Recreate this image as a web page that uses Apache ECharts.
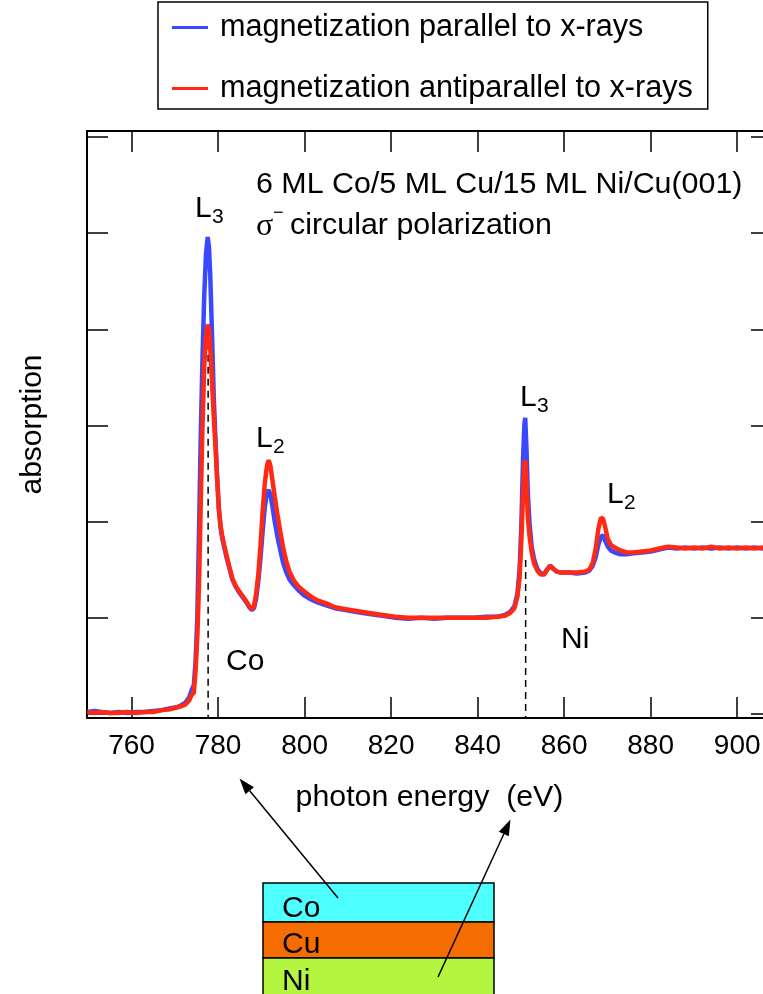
<!DOCTYPE html>
<html>
<head>
<meta charset="utf-8">
<script src="https://cdn.jsdelivr.net/npm/echarts@6/dist/echarts.min.js"></script>
<style>
  html, body { margin: 0; padding: 0; background: #fff; }
  #chart { width: 763px; height: 994px; }
</style>
</head>
<body>
<div id="chart"></div>
<script>
// Photon energy grid (eV)
const energy = [
  749.8, 751.5, 753, 755, 757, 759, 761, 763, 765, 767, 769, 770.5, 771.5, 772.5, 773.3, 773.9,
  774.4, 774.8, 775.2, 775.6, 776.0, 776.4, 776.8, 777.2, 777.6, 777.9, 778.2, 778.6, 779.0, 779.4,
  779.8, 780.2, 780.6, 781.0, 781.5, 782.0, 782.6, 783.3, 784.0, 784.8, 785.6, 786.4, 787.2, 787.8,
  788.3, 788.8, 789.3, 789.8, 790.3, 790.8, 791.3, 791.7, 792.1, 792.6, 793.1, 793.7, 794.3, 795.0,
  795.7, 796.5, 797.5, 798.7, 800.0, 801.5, 803.0, 805.0, 807.0, 809.5, 812.0, 815.0, 818.0, 821.0,
  824.0, 827.0, 830.0, 833.0, 836.0, 839.0, 842.0, 844.5, 846.3, 847.5, 848.5, 849.2, 849.7, 850.1,
  850.5, 850.8, 851.0, 851.3, 851.6, 852.0, 852.5, 853.1, 853.8, 854.6, 855.4, 856.2, 856.8, 857.5,
  858.3, 859.3, 861.0, 863.0, 864.8, 865.8, 866.6, 867.3, 867.9, 868.5, 869.0, 869.5, 870.1, 870.8,
  871.7, 873.0, 874.5, 876.0, 878.0, 880.0, 882.0, 884.0, 886.0, 888.0, 890.0, 892.0, 894.0, 896.0,
  898.0, 900.0, 902.0, 904.0, 906.0, 908.0
];

// Absorption, magnetization parallel to the x-rays
const absParallel = [
  0.02, 0.03, 0.02, 0.01, 0.02, 0.01, 0.02, 0.02, 0.03, 0.04, 0.06, 0.07, 0.09, 0.12, 0.17, 0.25,
  0.30, 0.55, 1.00, 1.90, 2.90, 3.70, 4.35, 4.78, 4.96, 4.85, 4.55, 3.95, 3.30, 2.85,
  2.45, 2.12, 1.93, 1.82, 1.72, 1.62, 1.52, 1.40, 1.33, 1.27, 1.22, 1.17, 1.11, 1.08,
  1.10, 1.20, 1.38, 1.62, 1.90, 2.15, 2.30, 2.33, 2.28, 2.15, 2.00, 1.85, 1.72, 1.58,
  1.48, 1.40, 1.34, 1.28, 1.23, 1.19, 1.16, 1.13, 1.10, 1.08, 1.06, 1.04, 1.02, 1.00,
  0.99, 1.00, 0.99, 1.00, 1.00, 1.00, 1.01, 1.01, 1.03, 1.06, 1.12, 1.25, 1.50, 1.95,
  2.65, 3.00, 3.08, 2.75, 2.30, 1.98, 1.74, 1.60, 1.51, 1.46, 1.46, 1.51, 1.54, 1.51,
  1.48, 1.47, 1.47, 1.46, 1.47, 1.49, 1.54, 1.63, 1.76, 1.84, 1.86, 1.80, 1.74, 1.70,
  1.68, 1.66, 1.66, 1.67, 1.68, 1.69, 1.71, 1.73, 1.72, 1.73, 1.72, 1.73, 1.72, 1.73,
  1.72, 1.73, 1.72, 1.73, 1.72, 1.72
];

// Absorption, magnetization antiparallel to the x-rays
const absAntiparallel = [
  0.02, 0.01, 0.02, 0.01, 0.01, 0.02, 0.01, 0.02, 0.02, 0.04, 0.05, 0.07, 0.08, 0.10, 0.14, 0.20,
  0.22, 0.45, 0.80, 1.35, 2.20, 3.00, 3.62, 3.92, 4.05, 4.00, 3.80, 3.45, 3.10, 2.78,
  2.43, 2.12, 1.95, 1.84, 1.74, 1.64, 1.53, 1.41, 1.34, 1.28, 1.23, 1.18, 1.12, 1.09,
  1.12, 1.25, 1.45, 1.75, 2.10, 2.40, 2.58, 2.64, 2.58, 2.42, 2.26, 2.08, 1.92, 1.74,
  1.60, 1.48, 1.39, 1.32, 1.27, 1.22, 1.18, 1.15, 1.11, 1.09, 1.07, 1.05, 1.03, 1.01,
  1.00, 1.00, 1.00, 1.00, 1.00, 1.00, 1.00, 1.01, 1.02, 1.05, 1.10, 1.22, 1.42, 1.80,
  2.30, 2.60, 2.64, 2.40, 2.05, 1.85, 1.68, 1.56, 1.49, 1.45, 1.45, 1.51, 1.54, 1.51,
  1.48, 1.47, 1.47, 1.47, 1.48, 1.50, 1.57, 1.72, 1.92, 2.04, 2.03, 1.94, 1.82, 1.76,
  1.73, 1.70, 1.68, 1.68, 1.69, 1.70, 1.72, 1.74, 1.73, 1.72, 1.73, 1.72, 1.74, 1.72,
  1.73, 1.72, 1.73, 1.72, 1.73, 1.72
];

const xTicks = [760, 780, 800, 820, 840, 860, 880, 900];
const yTicks = [0, 1, 2, 3, 4, 5, 6];

// L3 edge positions (eV) and extents of the dashed markers (absorption units)
const coEdge = [777.7, 3.86, -0.042];
const niEdge = [851.1, 1.60, -0.042];

const FONT = '"Liberation Sans", Arial, Helvetica, sans-serif';
const BLUE = '#3a48ff';
const RED = '#ff2a14';

const chart = echarts.init(document.getElementById('chart'), null, { renderer: 'canvas' });

const pairs = (xs, ys) => xs.map((x, i) => [x, ys[i]]);

function txt(text, x, y, size, extra) {
  return {
    type: 'text', silent: true,
    style: Object.assign({
      text: text, x: x, y: y, fontSize: size, fontFamily: FONT,
      fill: '#000', verticalAlign: 'middle', align: 'left'
    }, extra || {})
  };
}

// Arrow from tail to tip, with a filled head
function arrow(tail, tip) {
  const dx = tip[0] - tail[0], dy = tip[1] - tail[1];
  const len = Math.hypot(dx, dy);
  const ux = dx / len, uy = dy / len;
  const hl = 16, hw = 5.5;
  const bx = tip[0] - hl * ux, by = tip[1] - hl * uy;
  const nx = -uy, ny = ux;
  return [
    { type: 'line', silent: true,
      shape: { x1: tail[0], y1: tail[1], x2: bx, y2: by },
      style: { stroke: '#000', lineWidth: 1.5 } },
    { type: 'polygon', silent: true,
      shape: { points: [tip, [bx + hw * nx, by + hw * ny], [bx - hw * nx, by - hw * ny]] },
      style: { fill: '#000' } }
  ];
}

const tickCommon = { show: true, inside: true, length: 21, lineStyle: { color: '#000', width: 1.5 } };
const lineCommon = { show: true, onZero: false, lineStyle: { color: '#000', width: 2 } };

const X_MIN = 749.7, X_MAX = 908.05;
const Y_MIN = -0.042, Y_MAX = 6.062;

const option = {
  backgroundColor: '#fff',
  animation: false,
  textStyle: { fontFamily: FONT },
  legend: {
    data: ['magnetization parallel to x-rays', 'magnetization antiparallel to x-rays'],
    orient: 'vertical',
    left: 158, top: 2,
    padding: [10, 15, 5, 14],
    itemGap: 30,
    itemWidth: 36, itemHeight: 3,
    icon: 'rect',
    borderColor: '#000', borderWidth: 1.5,
    textStyle: { fontSize: 30.6, fontFamily: FONT, color: '#000', lineHeight: 30, padding: [0, 0, 0, 7] }
  },
  grid: { left: 87, top: 131, width: 685, bottom: 276, containLabel: false, outerBoundsMode: 'none' },
  xAxis: [
    {
      type: 'value', position: 'bottom', min: X_MIN, max: X_MAX,
      axisLine: lineCommon,
      axisTick: Object.assign({ customValues: xTicks }, tickCommon),
      axisLabel: { customValues: xTicks, fontSize: 28, color: '#000', margin: 14, fontFamily: FONT },
      splitLine: { show: false },
      name: 'photon energy  (eV)', nameLocation: 'middle', nameGap: 65,
      nameTextStyle: { fontSize: 30.3, color: '#000', fontFamily: FONT }
    },
    {
      type: 'value', position: 'top', min: X_MIN, max: X_MAX,
      axisLine: lineCommon,
      axisTick: Object.assign({ customValues: xTicks }, tickCommon),
      axisLabel: { show: false },
      splitLine: { show: false }
    }
  ],
  yAxis: [
    {
      type: 'value', position: 'left', min: Y_MIN, max: Y_MAX,
      axisLine: lineCommon,
      axisTick: Object.assign({ customValues: yTicks }, tickCommon),
      axisLabel: { show: false },
      splitLine: { show: false },
      name: 'absorption', nameLocation: 'middle', nameGap: 39, nameRotate: 90,
      nameTextStyle: { fontSize: 30, color: '#000', fontFamily: FONT }
    },
    {
      type: 'value', position: 'right', min: Y_MIN, max: Y_MAX,
      axisLine: lineCommon,
      axisTick: Object.assign({ customValues: yTicks }, tickCommon),
      axisLabel: { show: false },
      splitLine: { show: false }
    }
  ],
  series: [
    {
      name: 'Co L3 edge', type: 'line', z: 1, showSymbol: false, silent: true,
      data: [[coEdge[0], coEdge[1]], [coEdge[0], coEdge[2]]],
      lineStyle: { color: '#000', width: 1.5, type: [7, 5] }
    },
    {
      name: 'Ni L3 edge', type: 'line', z: 1, showSymbol: false, silent: true,
      data: [[niEdge[0], niEdge[1]], [niEdge[0], niEdge[2]]],
      lineStyle: { color: '#000', width: 1.5, type: [7, 5] }
    },
    {
      name: 'magnetization parallel to x-rays', type: 'line', z: 3,
      showSymbol: false, data: pairs(energy, absParallel),
      color: BLUE, lineStyle: { color: BLUE, width: 4.5 }
    },
    {
      name: 'magnetization antiparallel to x-rays', type: 'line', z: 4,
      showSymbol: false, data: pairs(energy, absAntiparallel),
      color: RED, lineStyle: { color: RED, width: 4.5 }
    }
  ],
  graphic: [
    txt('6 ML Co/5 ML Cu/15 ML Ni/Cu(001)', 256, 185, 30.4),
    txt('σ', 256, 227, 32, { fontFamily: '"Liberation Serif", "DejaVu Serif", serif' }),
    txt('−', 273, 213, 18),
    txt('circular polarization', 290, 226, 30.4),
    // edge labels
    txt('L', 195, 209, 30), txt('3', 212, 217, 21),
    txt('L', 256, 439, 30), txt('2', 273, 447, 21),
    txt('L', 520, 398, 30), txt('3', 537, 406, 21),
    txt('L', 607, 495, 30), txt('2', 624, 503, 21),
    txt('Co', 226, 662, 30),
    txt('Ni', 561, 640, 30),
    // layer stack
    { type: 'rect', silent: true, shape: { x: 263, y: 883, width: 231, height: 39 },
      style: { fill: '#4dffff', stroke: '#000', lineWidth: 1.5 } },
    { type: 'rect', silent: true, shape: { x: 263, y: 922, width: 231, height: 36 },
      style: { fill: '#f56c00', stroke: '#000', lineWidth: 1.5 } },
    { type: 'rect', silent: true, shape: { x: 263, y: 958, width: 231, height: 40 },
      style: { fill: '#b3f53f', stroke: '#000', lineWidth: 1.5 } },
    txt('Co', 282, 909, 30),
    txt('Cu', 282, 945, 30),
    txt('Ni', 282, 982, 30)
  ].concat(arrow([338, 898], [239.5, 778.5]), arrow([438, 977], [510.5, 819.5]))
};

chart.setOption(option);
</script>
</body>
</html>
